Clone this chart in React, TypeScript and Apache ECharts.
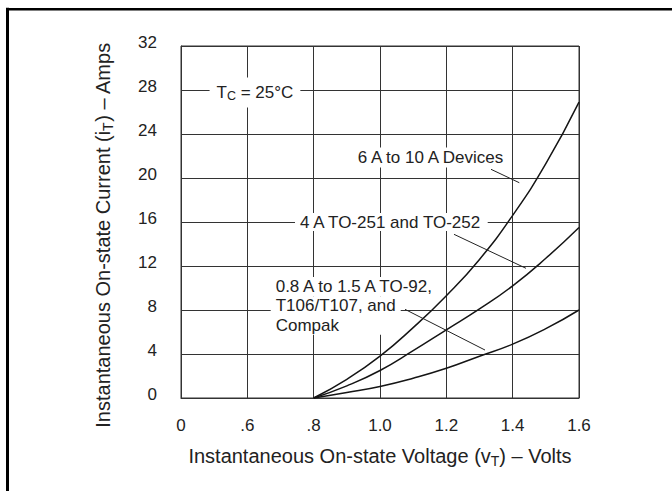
import React, { useEffect, useRef } from 'react';
import * as echarts from 'echarts';

// Forward voltage (V) sample points along the curves
const voltage = [0.8, 0.9, 1.0, 1.1, 1.2, 1.3, 1.4, 1.5, 1.6];
// Instantaneous on-state current (A) for each device family
const current6to10A = [0, 1.7, 3.8, 6.4, 9.3, 12.6, 16.6, 21.3, 26.9];
const current4A = [0, 1.1, 2.5, 4.3, 6.2, 8.1, 10.2, 12.7, 15.5];
const current08to15A = [0, 0.5, 1.05, 1.8, 2.7, 3.8, 4.9, 6.3, 8.0];

const seriesNames = ['6 A to 10 A Devices', '4 A TO-251 and TO-252', '0.8 A to 1.5 A TO-92, T106/T107, and Compak'];

// x axis is broken: first tick (drawn at 0.4) is labelled "0"
const xTickLabels = ['0', '.6', '.8', '1.0', '1.2', '1.4', '1.6'];
const xMin = 0.4;
const xMax = 1.6;
const xStep = 0.2;
const yMin = 0;
const yMax = 32;
const yStep = 4;

const FONT = '"Liberation Sans", Arial, Helvetica, sans-serif';
const TEXT = '#222';
const LINE = '#333';

export default function App() {
  const ref = useRef<HTMLDivElement>(null);

  useEffect(() => {
    const el = ref.current;
    if (!el) return;
    const chart = echarts.init(el, null, { renderer: 'svg' });

    const pairs = (ys: number[]) => voltage.map((x, i) => [x, ys[i]]);
    const curveStyle = { color: '#151515', width: 1.5 };
    const titleRich = {
      sub: { fontSize: 14, lineHeight: 8, verticalAlign: 'bottom', fontFamily: FONT, color: TEXT },
    };

    chart.setOption({
      animation: false,
      backgroundColor: '#ffffff',
      grid: {
        left: 181,
        top: 46,
        width: 398,
        height: 352,
        show: true,
        borderColor: LINE,
        borderWidth: 1,
      },
      xAxis: {
        type: 'value',
        min: xMin,
        max: xMax,
        interval: xStep,
        axisLine: { show: true, lineStyle: { color: LINE, width: 1 } },
        axisTick: { show: false },
        splitLine: { show: true, lineStyle: { color: LINE, width: 1 } },
        axisLabel: {
          formatter: (v: number) => xTickLabels[Math.round((v - xMin) / xStep)] ?? '',
          fontSize: 17,
          fontFamily: FONT,
          color: TEXT,
          margin: 19,
        },
        name: 'Instantaneous On-state Voltage (v{sub|T}) – Volts',
        nameLocation: 'middle',
        nameGap: 46,
        nameTextStyle: { fontSize: 20, fontFamily: FONT, color: TEXT, lineHeight: 24, rich: titleRich },
      },
      yAxis: {
        type: 'value',
        min: yMin,
        max: yMax,
        interval: yStep,
        axisLine: { show: true, lineStyle: { color: LINE, width: 1 } },
        axisTick: { show: false },
        splitLine: { show: true, lineStyle: { color: LINE, width: 1 } },
        axisLabel: {
          fontSize: 17,
          fontFamily: FONT,
          color: TEXT,
          margin: 24,
          verticalAlign: 'bottom',
          lineHeight: 8,
        },
        name: 'Instantaneous On-state Current (i{sub|T}) – Amps',
        nameLocation: 'middle',
        nameRotate: 90,
        nameGap: 66,
        nameTextStyle: {
          fontSize: 20,
          fontFamily: FONT,
          color: TEXT,
          lineHeight: 24,
          padding: [0, 26, 0, 0],
          rich: titleRich,
        },
      },
      series: [
        { name: seriesNames[0], type: 'line', data: pairs(current6to10A), smooth: 0.5, showSymbol: false, lineStyle: curveStyle, z: 5 },
        { name: seriesNames[1], type: 'line', data: pairs(current4A), smooth: 0.5, showSymbol: false, lineStyle: curveStyle, z: 5 },
        { name: seriesNames[2], type: 'line', data: pairs(current08to15A), smooth: 0.5, showSymbol: false, lineStyle: curveStyle, z: 5 },
      ],
    });

    const px = (x: number, y: number) => chart.convertToPixel({ xAxisIndex: 0, yAxisIndex: 0 }, [x, y]) as number[];

    const textStyleBase = {
      fontSize: 17,
      fontFamily: FONT,
      fill: TEXT,
      backgroundColor: '#ffffff',
    };

    const tc = px(0.623, 27.77);
    const dev6 = px(0.9328, 21.86);
    const dev4 = px(0.7588, 16.0);
    const dev08a = px(0.6855, 10.12);
    const dev08b = px(0.6855, 7.5);

    const leader = (a: number[], b: number[]) => {
      const p1 = px(a[0], a[1]);
      const p2 = px(b[0], b[1]);
      return {
        type: 'line',
        z: 20,
        shape: { x1: p1[0], y1: p1[1], x2: p2[0], y2: p2[1] },
        style: { stroke: TEXT, lineWidth: 1 },
      };
    };

    chart.setOption({
      graphic: [
        // page frame (left and top edges)
        { type: 'line', z: 30, shape: { x1: 7.5, y1: 7.8, x2: 7.5, y2: 491 }, style: { stroke: '#000', lineWidth: 3 } },
        { type: 'line', z: 30, shape: { x1: 6, y1: 9.2, x2: 672, y2: 9.2 }, style: { stroke: '#000', lineWidth: 2.6 } },
        {
          type: 'text',
          z: 10,
          x: tc[0],
          y: tc[1],
          style: {
            ...textStyleBase,
            text: 'T{sub|C} = 25°C',
            align: 'center',
            verticalAlign: 'middle',
            lineHeight: 20,
            padding: [5, 7],
            rich: { sub: { fontSize: 12.5, lineHeight: 6, verticalAlign: 'bottom', fontFamily: FONT, fill: TEXT } },
          },
        },
        {
          type: 'text',
          z: 10,
          x: dev6[0] - 4,
          y: dev6[1],
          style: { ...textStyleBase, text: seriesNames[0], align: 'left', verticalAlign: 'middle', lineHeight: 20, padding: [0, 4] },
        },
        {
          type: 'text',
          z: 10,
          x: dev4[0] - 5,
          y: dev4[1],
          style: { ...textStyleBase, text: seriesNames[1], align: 'left', verticalAlign: 'middle', lineHeight: 18, padding: [0, 5] },
        },
        {
          type: 'text',
          z: 10,
          x: dev08a[0] - 5,
          y: dev08a[1],
          style: { ...textStyleBase, text: '0.8 A to 1.5 A TO-92,', align: 'left', verticalAlign: 'middle', lineHeight: 19.2, padding: [0, 5] },
        },
        {
          type: 'text',
          z: 10,
          x: dev08b[0] - 5,
          y: dev08b[1],
          style: { ...textStyleBase, text: 'T106/T107, and\nCompak', align: 'left', verticalAlign: 'middle', lineHeight: 19.2, padding: [0, 5] },
        },
        leader([1.3347, 20.79], [1.42, 19.57]),
        leader([1.2231, 14.88], [1.4402, 11.79]),
        leader([1.0754, 8.06], [1.3166, 4.36]),
      ],
    });

    return () => {
      chart.dispose();
    };
  }, []);

  return (
    <div
      ref={ref}
      style={{ position: 'fixed', left: 0, top: 0, width: 672, height: 491, background: '#fff' }}
    />
  );
}
